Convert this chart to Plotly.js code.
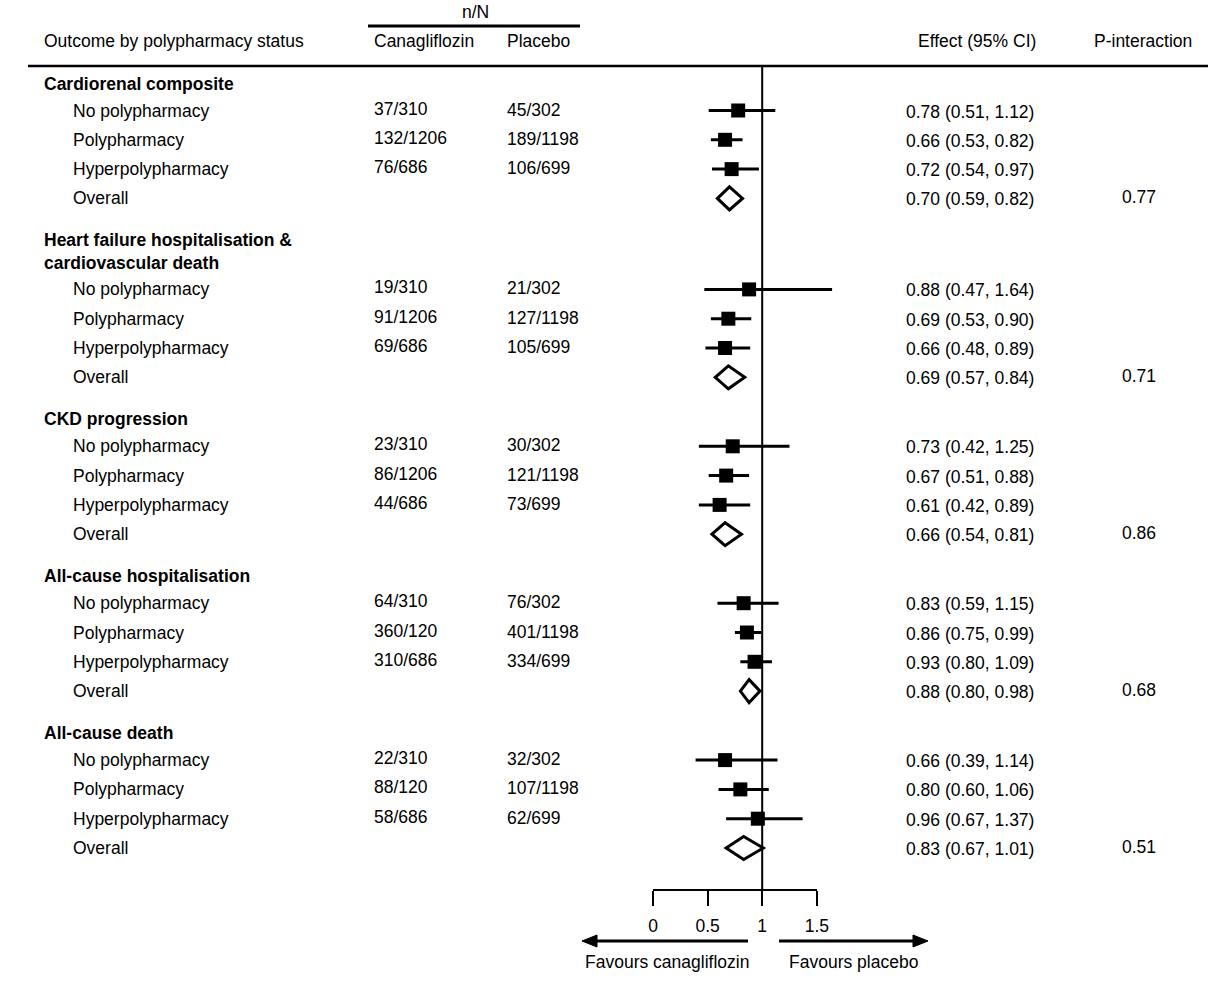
<!DOCTYPE html>
<html>
<head>
<meta charset="utf-8">
<script src="https://cdn.plot.ly/plotly-3.0.1.min.js"></script>
<style>
  html, body { margin: 0; padding: 0; background: #ffffff; }
  #chart { width: 1212px; height: 983px; }
</style>
</head>
<body>
<div id="chart"></div>
<script>
// Outcomes (rows of the forest plot) and their subgroups
const outcomes = [
  "Cardiorenal composite",
  "Heart failure hospitalisation &amp;<br>cardiovascular death",
  "CKD progression",
  "All-cause hospitalisation",
  "All-cause death"
];
const subgroups = ["No polypharmacy", "Polypharmacy", "Hyperpolypharmacy"];
const overallLabel = "Overall";

// Events / participants per arm
const canagliflozinNN = [
  ["37/310", "132/1206", "76/686"],
  ["19/310", "91/1206", "69/686"],
  ["23/310", "86/1206", "44/686"],
  ["64/310", "360/120", "310/686"],
  ["22/310", "88/120", "58/686"]
];
const placeboNN = [
  ["45/302", "189/1198", "106/699"],
  ["21/302", "127/1198", "105/699"],
  ["30/302", "121/1198", "73/699"],
  ["76/302", "401/1198", "334/699"],
  ["32/302", "107/1198", "62/699"]
];

// Subgroup hazard ratios with 95% CI
const estimate = [
  [0.78, 0.66, 0.72],
  [0.88, 0.69, 0.66],
  [0.73, 0.67, 0.61],
  [0.83, 0.86, 0.93],
  [0.66, 0.80, 0.96]
];
const lowerCI = [
  [0.51, 0.53, 0.54],
  [0.47, 0.53, 0.48],
  [0.42, 0.51, 0.42],
  [0.59, 0.75, 0.80],
  [0.39, 0.60, 0.67]
];
const upperCI = [
  [1.12, 0.82, 0.97],
  [1.64, 0.90, 0.89],
  [1.25, 0.88, 0.89],
  [1.15, 0.99, 1.09],
  [1.14, 1.06, 1.37]
];

// Pooled (overall) estimates per outcome
const overallEst = [0.70, 0.69, 0.66, 0.88, 0.83];
const overallLo  = [0.59, 0.57, 0.54, 0.80, 0.67];
const overallHi  = [0.82, 0.84, 0.81, 0.98, 1.01];
const pInteraction = ["0.77", "0.71", "0.86", "0.68", "0.51"];

// Effect axis
const axisTicks = [0, 0.5, 1, 1.5];
const axisTickText = ["0", "0.5", "1", "1.5"];

// ---------- page geometry ----------
const W = 1212, H = 983;
const ORIGIN_PX = 653;      // where effect = 0 sits
const PX_PER_UNIT = 109.2;  // pixels per unit of effect
const px = v => v / W;      // pixel column -> paper fraction
const FONT = "Liberation Sans, Arial, Helvetica, sans-serif";
const FS = 17.5;

const COL_LABEL = 42, COL_SUB = 71, COL_CANA = 372, COL_PLAC = 505, COL_EFF = 904, COL_P = 1139;
const TOP_RULE = 66, AXIS_Y = 890;

// Vertical layout of the rows (y measured in pixels from the top)
const ROW_STEP = 29.3, HEADER_TO_ROW = 27, GROUP_GAP = 42, HEADER_LINE = 22;
const headerY = [], rowY = [], overallY = [];
{
  let y = 83.5;
  outcomes.forEach((name, g) => {
    const lines = name.split("<br>").length;
    headerY[g] = y + (lines - 1) * HEADER_LINE / 2;
    y += (lines - 1) * HEADER_LINE + HEADER_TO_ROW;
    rowY[g] = [];
    subgroups.forEach((_, k) => { rowY[g][k] = y; y += ROW_STEP; });
    overallY[g] = y;
    y += GROUP_GAP;
  });
}

const fmt = (e, l, h) => `${e.toFixed(2)} (${l.toFixed(2)}, ${h.toFixed(2)})`;

// ---------- traces ----------
const sqX = [], sqY = [], errPlus = [], errMinus = [];
outcomes.forEach((_, g) => {
  subgroups.forEach((_, k) => {
    sqX.push(estimate[g][k]);
    sqY.push(rowY[g][k]);
    errPlus.push(upperCI[g][k] - estimate[g][k]);
    errMinus.push(estimate[g][k] - lowerCI[g][k]);
  });
});

const traces = [
  {
    type: "scatter", mode: "markers",
    x: sqX, y: sqY, xaxis: "x", yaxis: "y",
    marker: { symbol: "square", size: 14, color: "#000000", line: { width: 0 } },
    error_x: {
      type: "data", symmetric: false, array: errPlus, arrayminus: errMinus,
      thickness: 3, width: 0, color: "#000000"
    },
    hoverinfo: "skip", showlegend: false, cliponaxis: false
  },
  // carries the effect-axis scale shown under the plot
  {
    type: "scatter", mode: "none",
    x: axisTicks, y: axisTicks.map(() => AXIS_Y),
    xaxis: "x2", yaxis: "y", hoverinfo: "skip", showlegend: false
  }
];

// ---------- shapes ----------
const shapes = [];
// pooled-estimate diamonds
outcomes.forEach((_, g) => {
  const y = overallY[g], h = 11.5;
  shapes.push({
    type: "path", xref: "x", yref: "y",
    path: `M ${overallLo[g]},${y} L ${overallEst[g]},${y - h} L ${overallHi[g]},${y} L ${overallEst[g]},${y + h} Z`,
    fillcolor: "#ffffff", line: { color: "#000000", width: 3 }, layer: "above"
  });
});
// line of no effect
shapes.push({ type: "line", xref: "x", yref: "y", x0: 1, x1: 1, y0: TOP_RULE, y1: AXIS_Y,
  line: { color: "#000000", width: 2 }, layer: "below" });
// header rules
shapes.push({ type: "line", xref: "paper", yref: "y", x0: px(28), x1: px(1208), y0: TOP_RULE, y1: TOP_RULE,
  line: { color: "#000000", width: 2.5 } });
shapes.push({ type: "line", xref: "paper", yref: "y", x0: px(368), x1: px(580), y0: 26, y1: 26,
  line: { color: "#000000", width: 3 } });
// direction arrows under the axis
const ARROW_Y = 941;
function arrow(tail, head) {
  const dir = head > tail ? 1 : -1;
  shapes.push({ type: "line", xref: "paper", yref: "y", x0: px(tail), x1: px(head - dir * 8), y0: ARROW_Y, y1: ARROW_Y,
    line: { color: "#000000", width: 3 } });
  shapes.push({ type: "path", xref: "paper", yref: "y",
    path: `M ${px(head)},${ARROW_Y} L ${px(head - dir * 15)},${ARROW_Y - 6} L ${px(head - dir * 15)},${ARROW_Y + 6} Z`,
    fillcolor: "#000000", line: { color: "#000000", width: 1 } });
}
arrow(748, 582);
arrow(779, 928);

// ---------- text ----------
const annotations = [];
function txt(text, xPix, y, opts = {}) {
  annotations.push(Object.assign({
    text, x: px(xPix), y, xref: "paper", yref: "y",
    xanchor: "left", yanchor: "middle", showarrow: false,
    font: { family: FONT, size: FS, color: "#000000" }, align: "left"
  }, opts));
}

// column headers
txt("n/N", 475, 12, { xanchor: "center" });
txt("Outcome by polypharmacy status", COL_LABEL, 41);
txt("Canagliflozin", COL_CANA, 41);
txt("Placebo", COL_PLAC, 41);
txt("Effect (95% CI)", 1038, 41, { xanchor: "right" });
txt("P-interaction", 1143, 41, { xanchor: "center" });

outcomes.forEach((name, g) => {
  txt(`<b>${name}</b>`, COL_LABEL, headerY[g]);
  subgroups.forEach((sg, k) => {
    const y = rowY[g][k];
    txt(sg, COL_SUB, y);
    txt(canagliflozinNN[g][k], COL_CANA, y - 2);
    txt(placeboNN[g][k], COL_PLAC, y - 1);
    txt(fmt(estimate[g][k], lowerCI[g][k], upperCI[g][k]), COL_EFF, y + 1);
  });
  txt(overallLabel, COL_SUB, overallY[g]);
  txt(fmt(overallEst[g], overallLo[g], overallHi[g]), COL_EFF, overallY[g] + 1);
  txt(pInteraction[g], COL_P, overallY[g] - 1, { xanchor: "center" });
});

txt("Favours canagliflozin", 667, 962, { xanchor: "center" });
txt("Favours placebo", 853, 962, { xanchor: "center" });

// ---------- layout ----------
const layout = {
  width: W, height: H,
  margin: { l: 0, r: 0, t: 0, b: 0, pad: 0 },
  paper_bgcolor: "#ffffff", plot_bgcolor: "rgba(0,0,0,0)",
  showlegend: false,
  xaxis: {
    domain: [0, 1], range: [-ORIGIN_PX / PX_PER_UNIT, (W - ORIGIN_PX) / PX_PER_UNIT],
    visible: false, fixedrange: true
  },
  xaxis2: {
    domain: [px(ORIGIN_PX), px(ORIGIN_PX + 1.5 * PX_PER_UNIT)],
    range: [0, 1.5], anchor: "free", position: 1 - AXIS_Y / H,
    showline: true, linecolor: "#000000", linewidth: 2,
    ticks: "outside", ticklen: 15, tickwidth: 2, tickcolor: "#000000",
    ticklabelstandoff: 5,
    tickvals: axisTicks, ticktext: axisTickText,
    tickfont: { family: FONT, size: FS, color: "#000000" },
    showgrid: false, zeroline: false, fixedrange: true
  },
  yaxis: { domain: [0, 1], range: [H, 0], visible: false, fixedrange: true },
  shapes, annotations
};

Plotly.newPlot("chart", traces, layout, { displayModeBar: false, staticPlot: true });
</script>
</body>
</html>
